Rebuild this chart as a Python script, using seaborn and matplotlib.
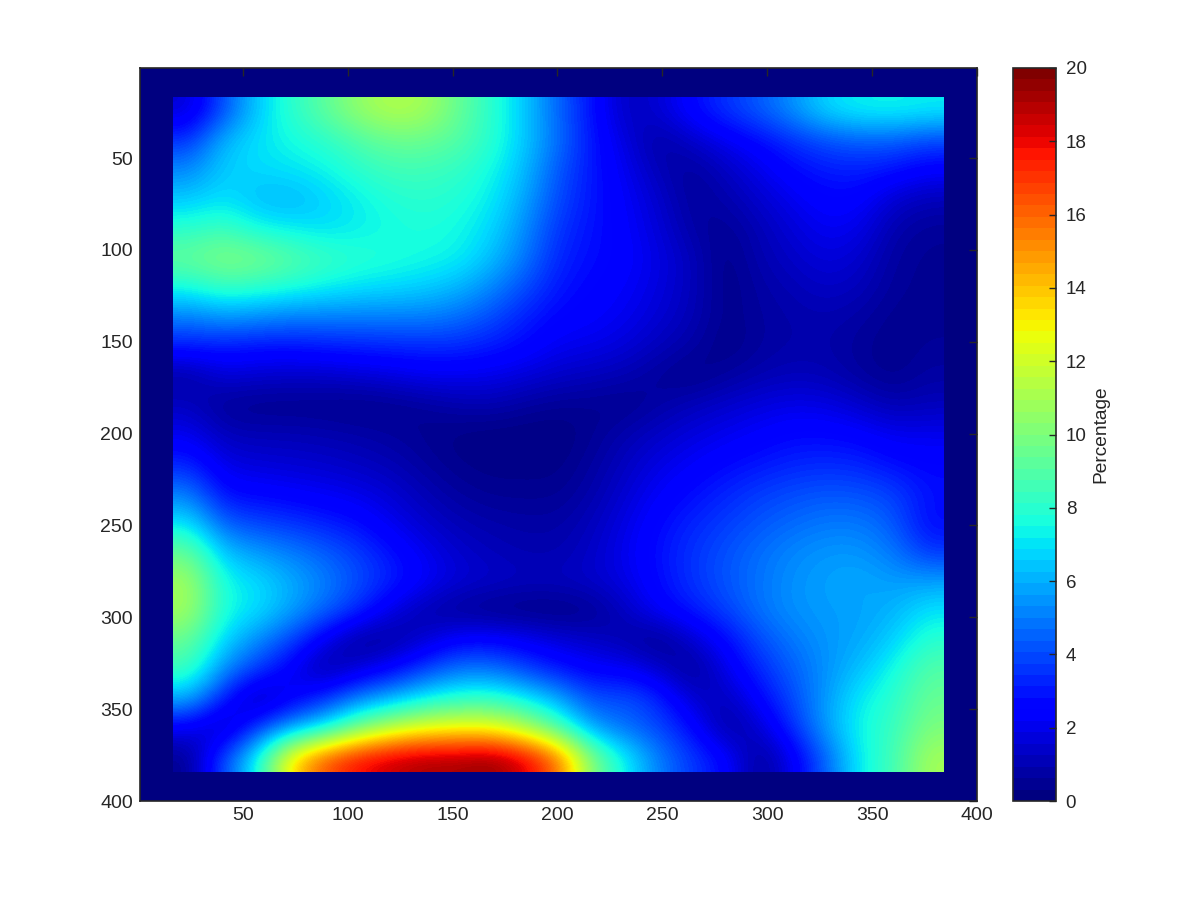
import numpy as np
import matplotlib
matplotlib.use("Agg")
import matplotlib.pyplot as plt
import seaborn as sns

# values, one list per row of 16-unit cells (y = 24 ... 376)
row_024 = [1.5, 4.0, 6.5, 8.0, 9.2, 10.5, 11.3, 11.0, 9.5, 8.0, 6.5, 4.5, 2.8, 1.1, 1.5, 2.6, 3.5, 4.3, 5.4, 6.8, 7.3, 7.4, 7.2]
row_040 = [3.5, 6.2, 7.0, 7.5, 8.0, 8.8, 9.5, 9.5, 9.0, 8.0, 6.5, 4.7, 2.9, 1.7, 0.6, 1.3, 2.0, 2.6, 3.4, 4.0, 4.3, 4.3, 3.8]
row_056 = [5.2, 6.6, 6.8, 7.0, 7.3, 8.0, 8.5, 8.5, 8.2, 7.5, 6.2, 4.2, 2.9, 2.0, 1.0, 0.5, 1.2, 1.9, 2.6, 3.0, 3.1, 2.8, 2.3]
row_072 = [6.5, 7.0, 6.2, 6.0, 6.6, 7.2, 7.8, 8.0, 7.8, 7.2, 5.8, 3.9, 2.9, 2.2, 1.4, 0.5, 0.8, 1.4, 2.0, 2.5, 2.4, 1.4, 1.0]
row_088 = [8.0, 8.5, 7.5, 7.2, 6.9, 7.2, 7.5, 7.7, 7.5, 6.8, 5.3, 3.5, 2.8, 2.3, 1.6, 0.7, 0.4, 1.0, 1.6, 2.1, 1.9, 0.8, 0.5]
row_104 = [9.5, 10.2, 10.0, 9.2, 8.5, 8.0, 7.8, 7.5, 7.3, 6.3, 4.9, 3.2, 2.7, 2.4, 1.8, 1.1, 0.2, 0.9, 1.3, 1.7, 1.4, 0.6, 0.4]
row_120 = [7.5, 8.3, 8.0, 7.7, 7.3, 7.0, 6.8, 6.6, 6.1, 5.2, 4.0, 2.9, 2.5, 2.2, 1.7, 1.1, 0.2, 0.7, 1.0, 1.3, 1.1, 0.5, 0.4]
row_136 = [5.0, 5.5, 5.3, 5.0, 5.0, 5.0, 5.0, 5.0, 4.7, 4.0, 3.1, 2.5, 2.3, 2.0, 1.5, 1.0, 0.3, 0.6, 0.8, 0.9, 0.7, 0.35, 0.4]
row_152 = [3.0, 3.0, 2.8, 2.8, 3.0, 3.1, 3.2, 3.3, 3.3, 3.0, 2.6, 2.0, 1.9, 1.6, 1.1, 0.7, 0.2, 0.6, 0.8, 0.8, 0.5, 0.3, 0.5]
row_168 = [0.6, 1.6, 1.4, 1.3, 1.3, 1.5, 1.7, 2.0, 2.0, 1.9, 1.6, 1.3, 1.1, 0.9, 0.5, 0.2, 0.6, 0.9, 1.1, 1.0, 0.6, 0.3, 0.7]
row_184 = [1.2, 0.4, 0.3, 0.3, 0.3, 0.2, 0.3, 0.5, 0.8, 0.9, 0.6, 0.4, 0.4, 0.3, 0.7, 1.1, 1.4, 1.7, 1.9, 1.8, 1.4, 0.9, 1.1]
row_200 = [2.0, 1.1, 1.0, 1.0, 0.9, 0.8, 0.6, 0.4, 0.2, 0.1, 0.1, 0.1, 0.4, 0.9, 1.3, 1.7, 2.0, 2.3, 2.6, 2.6, 2.4, 2.0, 2.0]
row_216 = [3.2, 1.8, 1.6, 1.5, 1.4, 1.2, 1.0, 0.6, 0.3, 0.2, 0.2, 0.2, 0.6, 1.2, 1.8, 2.2, 2.6, 2.9, 3.2, 3.3, 3.2, 2.7, 2.5]
row_232 = [5.0, 2.6, 2.5, 2.3, 2.1, 1.9, 1.5, 1.0, 0.6, 0.4, 0.4, 0.4, 0.8, 1.5, 2.2, 2.7, 3.2, 3.7, 4.0, 4.2, 4.1, 3.8, 2.8]
row_248 = [7.0, 4.3, 3.8, 3.5, 3.1, 2.7, 2.0, 1.4, 1.0, 0.8, 0.7, 0.7, 1.1, 1.8, 2.6, 3.2, 3.7, 4.2, 4.6, 4.9, 4.9, 4.3, 2.6]
row_264 = [9.5, 6.3, 5.6, 5.0, 4.4, 3.7, 2.8, 2.0, 1.4, 1.1, 0.9, 0.9, 1.3, 2.0, 2.8, 3.5, 4.1, 4.7, 5.2, 5.5, 5.5, 4.9, 3.5]
row_280 = [11.0, 7.5, 6.9, 6.0, 5.1, 4.1, 3.2, 2.3, 1.6, 1.4, 1.2, 1.2, 1.4, 1.8, 2.7, 3.5, 4.2, 4.8, 5.4, 5.7, 5.9, 5.6, 5.7]
row_296 = [11.0, 7.6, 7.0, 5.8, 4.6, 3.4, 1.8, 0.8, 0.4, 0.15, 0.1, 0.1, 0.3, 1.2, 2.3, 3.0, 3.8, 4.8, 5.4, 5.6, 5.7, 6.0, 7.0]
row_312 = [9.5, 6.8, 5.3, 3.9, 2.0, 0.4, 0.5, 1.4, 2.4, 2.5, 2.1, 1.6, 1.3, 0.8, 0.2, 1.4, 2.6, 4.0, 4.9, 5.5, 5.8, 6.6, 8.0]
row_328 = [8.5, 5.3, 3.7, 2.2, 0.5, 1.5, 2.4, 3.7, 4.8, 4.8, 3.8, 2.9, 2.3, 2.2, 1.4, 0.3, 1.9, 3.3, 4.4, 5.4, 6.3, 7.5, 9.0]
row_344 = [6.0, 3.0, 0.6, 2.0, 3.3, 5.0, 6.0, 7.2, 8.0, 8.2, 7.2, 5.9, 3.9, 4.2, 3.3, 1.4, 1.0, 2.5, 4.0, 5.6, 7.2, 8.0, 9.5]
row_360 = [2.0, 0.8, 3.5, 5.6, 7.0, 9.7, 11.5, 12.5, 12.8, 12.7, 11.2, 8.7, 5.6, 4.6, 3.9, 2.7, 0.5, 1.4, 3.4, 5.7, 7.5, 8.3, 10.0]
row_376 = [0.3, 4.0, 7.3, 13.5, 16.5, 18.0, 18.8, 19.3, 19.3, 19.7, 18.5, 16.0, 10.0, 7.3, 5.0, 3.6, 2.6, 0.3, 2.0, 4.5, 7.3, 8.5, 11.0]

tick_values = [50, 100, 150, 200, 250, 300, 350, 400]
cbar_ticks = [0, 2, 4, 6, 8, 10, 12, 14, 16, 18, 20]

inner = np.array([
    row_024, row_040, row_056, row_072, row_088, row_104, row_120, row_136,
    row_152, row_168, row_184, row_200, row_216, row_232, row_248, row_264,
    row_280, row_296, row_312, row_328, row_344, row_360, row_376,
])
# the picture has a zero frame one cell wide around the measured area
grid = np.pad(inner, 1, constant_values=0)

sns.set_style("white")
plt.rcParams["font.family"] = ["Liberation Sans", "DejaVu Sans"]

INK = "#262626"
jet64 = plt.get_cmap("jet", 64)

fig = plt.figure(figsize=(12, 9), dpi=100)
ax = fig.add_axes([140 / 1200, 1 - 801 / 900, 837 / 1200, 733 / 900])
cax = fig.add_axes([1013 / 1200, 1 - 801 / 900, 43 / 1200, 733 / 900])

sns.heatmap(grid, ax=ax, cbar_ax=cax, cmap=jet64, vmin=0, vmax=20,
            xticklabels=False, yticklabels=False,
            cbar_kws={"label": "Percentage"})

# smooth shading over the measured area, finer colour steps hide the contours
ax.imshow(inner, cmap=plt.get_cmap("jet", 128), vmin=0, vmax=20,
          interpolation="bicubic", interpolation_stage="data", zorder=2,
          extent=(1, grid.shape[1] - 1, grid.shape[0] - 1, 1), aspect="auto")
ax.set_xlim(0, grid.shape[1])
ax.set_ylim(grid.shape[0], 0)
ax.set_axisbelow(False)

# heatmap axes run in cell numbers, the labels run 1..400
pos = [(v - 1) / 399 * grid.shape[0] for v in tick_values]
ax.set_xticks(pos)
ax.set_xticklabels(tick_values, rotation=0)
ax.set_yticks(pos)
ax.set_yticklabels(tick_values, rotation=0)
ax.tick_params(direction="in", top=True, right=True, length=5.5, width=1,
               color=INK, labelcolor=INK, labelsize=14, pad=5)
ax.tick_params(axis="x", pad=4)
for spine in ax.spines.values():
    spine.set_visible(True)
    spine.set_color(INK)
    spine.set_linewidth(1.2)

cbar = ax.collections[0].colorbar
cbar.set_ticks(cbar_ticks)
cbar.ax.set_axisbelow(False)
cbar.ax.tick_params(direction="in", length=5, width=1, color=INK,
                    labelcolor=INK, labelsize=13.5, pad=7)
cbar.set_label("Percentage", color=INK, fontsize=13.8, labelpad=4)
cbar.outline.set_visible(True)
cbar.outline.set_edgecolor(INK)
cbar.outline.set_linewidth(1.2)

fig.savefig("out.png", dpi=100)
plt.close(fig)
